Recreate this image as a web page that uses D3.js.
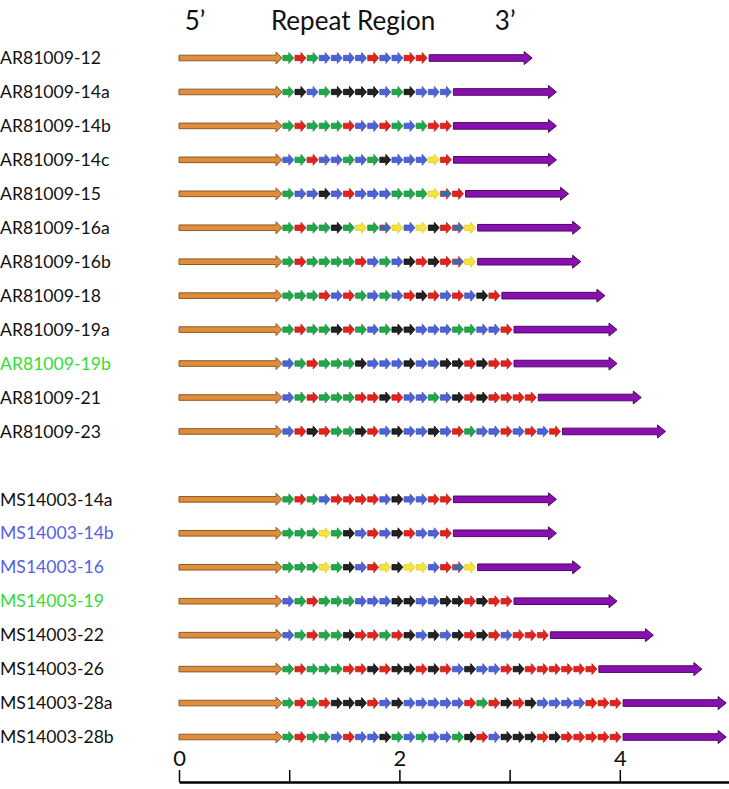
<!DOCTYPE html>
<html>
<head>
<meta charset="utf-8">
<script src="https://cdn.jsdelivr.net/npm/d3@7"></script>
<style>
  html, body { margin: 0; padding: 0; background: #fff; }
  svg { display: block; font-family: Lato, "Open Sans", sans-serif; }
</style>
</head>
<body>
<svg id="chart" width="729" height="789"></svg>
<script>
// Isolates and their repeat-region composition (one letter per repeat unit)
const isolates = [
  "AR81009-12", "AR81009-14a", "AR81009-14b", "AR81009-14c", "AR81009-15",
  "AR81009-16a", "AR81009-16b", "AR81009-18", "AR81009-19a", "AR81009-19b",
  "AR81009-21", "AR81009-23",
  "MS14003-14a", "MS14003-14b", "MS14003-16", "MS14003-19", "MS14003-22",
  "MS14003-26", "MS14003-28a", "MS14003-28b"
];
// row slot (a blank slot separates the two strain groups)
const rowSlot = [0,1,2,3,4,5,6,7,8,9,10,11, 13,14,15,16,17,18,19,20];
const labelColor = [
  "#111","#111","#111","#111","#111","#111","#111","#111","#111","#33dd33",
  "#111","#111",
  "#111","#5561e6","#5561e6","#33dd33","#111","#111","#111","#111"
];
const repeats = [
  "GRGBBBBRBBRR",
  "GKBGKKKKBGKBBB",
  "GRGGGRBBRGBGRR",
  "BGRBBGBGKBBBYR",
  "GBBKBRBBBGGGYTR",
  "GRGGKGYGTYBYKRTY",
  "GRGGGGRBGBKRKRTY",
  "GGGRBRGBGBRKRBRBKR",
  "GRGGKRGBGKKBBBGGBBR",
  "BGRGGGKBBBKBBKKRKRR",
  "BGRGGGRRKRBBGBKRKRRRR",
  "BRKRGGKRBKBBKBRGBBRBRBR",
  "GRGBRRRRBKBBRR",
  "GGGYGKBRBKRBBR",
  "GGGYGKBRYKYYBRTY",
  "BGRGGGBBBKKBBKKRKRR",
  "BGRGGKRRGRKBKBKRKRBRRR",
  "GRGGGRRKRKKRKRBKBBRKRRRRRR",
  "GRGRKKKRBKBBBBBRGRKRKBBBBRRR",
  "GRGGBRBBKGBGBBGKRBKKKRKRRRRR"
];
// repeat unit colours
const unitFill   = { G: "#1fa84a", R: "#e3231b", B: "#4d62d6", K: "#222222", Y: "#f6e43a", T: "#2f6fb6" };
const unitStroke = { G: "#17873a", R: "#b51a14", B: "#3a4db0", K: "#000000", Y: "#d8c62a", T: "#d0301f" };

// segment lengths (kb)
const flank5 = 0.935;
const unitLen = 0.110;
const flank3 = 0.935;
const flankGap = 0.015;

const tickValues = [0, 1, 2, 3, 4, 5];
const tickLabels = ["0", "", "2", "", "4", ""];
const headerLabels = [
  { text: "5\u2019", at: 0.145 },
  { text: "Repeat Region", at: 1.58 },
  { text: "3\u2019", at: 2.96 }
];

const svg = d3.select("#chart");
const x = d3.scaleLinear().domain([0, 5]).range([179, 730]);
const y = d3.scaleLinear().domain([0, 20]).range([58, 737]);

// horizontal arrow polygon
function arrowPath(x0, x1, yc, shaftHalf, headHalf, headLen) {
  const hb = Math.max(x0, x1 - headLen);
  return `M${x0},${yc - shaftHalf}L${hb},${yc - shaftHalf}L${hb},${yc - headHalf}` +
         `L${x1},${yc}L${hb},${yc + headHalf}L${hb},${yc + shaftHalf}L${x0},${yc + shaftHalf}Z`;
}

// header
svg.append("g").selectAll("text").data(headerLabels).join("text")
  .attr("x", d => x(d.at)).attr("y", 30)
  .attr("text-anchor", "middle")
  .attr("font-size", 26).attr("fill", "#111")
  .text(d => d.text);

const rows = svg.append("g").selectAll("g").data(isolates).join("g")
  .attr("transform", (d, i) => `translate(0,${y(rowSlot[i])})`);

rows.append("text")
  .attr("x", 0).attr("y", 0).attr("dy", "0.35em")
  .attr("font-size", 17.6)
  .attr("fill", (d, i) => labelColor[i])
  .text(d => d);

// 5' flank
rows.append("path")
  .attr("d", () => arrowPath(x(0), x(flank5), 0, 2.8, 6, 6))
  .attr("fill", "#e08c3a").attr("stroke", "#8c5a28").attr("stroke-width", 1);

// repeat units
rows.each(function(name, i) {
  const units = repeats[i].split("");
  d3.select(this).append("g").selectAll("path").data(units).join("path")
    .attr("d", (u, k) => arrowPath(
      x(flank5 + k * unitLen) + 0.8, x(flank5 + (k + 1) * unitLen) - 0.3, 0, 2.7, 5.5, 5))
    .attr("fill", u => unitFill[u])
    .attr("stroke", u => unitStroke[u]).attr("stroke-width", 0.7);
  // 3' flank
  const s = flank5 + units.length * unitLen + flankGap;
  d3.select(this).append("path")
    .attr("d", arrowPath(x(s), x(s + flank3), 0, 3.3, 6.5, 8))
    .attr("fill", "#8a0fb0").attr("stroke", "#4a0a5e").attr("stroke-width", 1);
});

// scale axis
const axis = d3.axisTop(x).tickValues(tickValues)
  .tickFormat((d, i) => tickLabels[i]).tickSize(12).tickSizeOuter(0).tickPadding(4);
const ag = svg.append("g").attr("transform", "translate(0,782)").call(axis);
ag.select(".domain").attr("stroke", "#000").attr("stroke-width", 2.5);
ag.selectAll(".tick line").attr("stroke", "#000").attr("stroke-width", 1.5);
ag.selectAll(".tick text").attr("font-size", 22).attr("fill", "#111")
  .attr("font-family", "Lato, 'Open Sans', sans-serif");
</script>
</body>
</html>
